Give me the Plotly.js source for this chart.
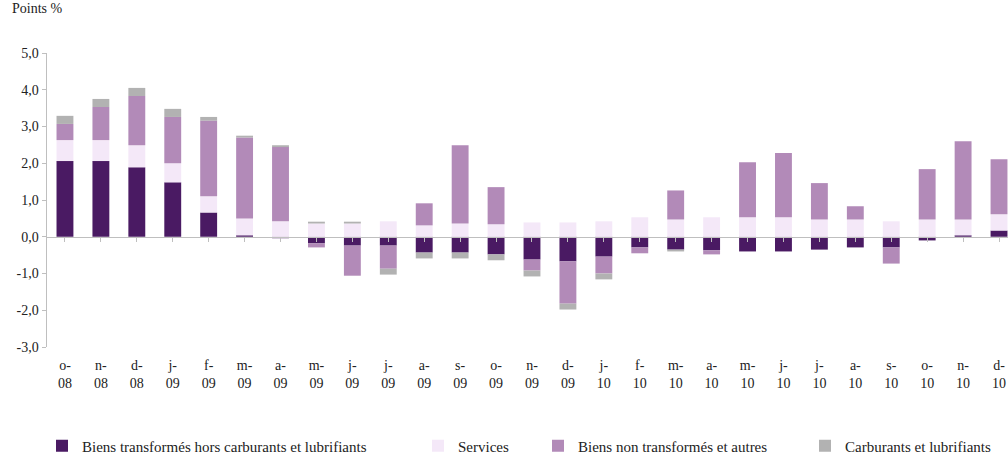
<!DOCTYPE html>
<html>
<head>
<meta charset="utf-8">
<script src="https://cdn.plot.ly/plotly-3.0.1.min.js"></script>
<style>html,body{margin:0;padding:0;background:#fff;}#chart{width:1008px;height:457px;}</style>
</head>
<body>
<div id="chart"></div>
<script>
var categories = ["o-<br>08","n-<br>08","d-<br>08","j-<br>09","f-<br>09","m-<br>09","a-<br>09","m-<br>09","j-<br>09","j-<br>09","a-<br>09","s-<br>09","o-<br>09","n-<br>09","d-<br>09","j-<br>10","f-<br>10","m-<br>10","a-<br>10","m-<br>10","j-<br>10","j-<br>10","a-<br>10","s-<br>10","o-<br>10","n-<br>10","d-<br>10"];
var biensTransformes = [2.06,2.06,1.89,1.48,0.66,0.04,-0.04,-0.18,-0.24,-0.24,-0.43,-0.43,-0.48,-0.62,-0.67,-0.54,-0.29,-0.35,-0.37,-0.40,-0.40,-0.35,-0.29,-0.29,-0.10,0.04,0.17];
var services = [0.57,0.57,0.60,0.52,0.44,0.46,0.42,0.36,0.36,0.42,0.31,0.36,0.34,0.39,0.39,0.42,0.53,0.47,0.53,0.53,0.53,0.47,0.47,0.42,0.47,0.43,0.44];
var biensNonTransformes = [0.44,0.90,1.34,1.26,2.06,2.20,2.02,-0.11,-0.82,-0.63,0.60,2.13,1.01,-0.30,-1.15,-0.46,-0.16,0.79,-0.11,1.50,1.75,0.99,0.36,-0.44,1.37,2.13,1.50];
var carburants = [0.22,0.22,0.22,0.22,0.10,0.05,0.05,0.05,0.05,-0.16,-0.16,-0.16,-0.16,-0.16,-0.16,-0.16,0.00,-0.05,0.00,0.00,0.00,0.00,0.00,0.00,0.00,0.00,0.00];
var seriesNames = ["Biens transformés hors carburants et lubrifiants","Services","Biens non transformés et autres","Carburants et lubrifiants"];
var yTickVals = [-3,-2,-1,0,1,2,3,4,5];
var yTickText = ["-3,0","-2,0","-1,0","0,0","1,0","2,0","3,0","4,0","5,0"];

var colors = ["#4A1A63","#F4E8F8","#B28AB8","#B2B2B2"];
var legendIds = ["legend","legend2","legend3","legend4"];
var seriesData = [biensTransformes, services, biensNonTransformes, carburants];
var idx = categories.map(function(c,i){return i;});
var traces = seriesData.map(function(vals,k){
  return {type:"bar", x: idx, y: vals, name: seriesNames[k], legend: legendIds[k],
          marker:{color: colors[k], line:{width:0}}, hoverinfo:"y"};
});
// overlay axis for line at zero with boundary ticks
traces.push({type:"scatter", x:[0,26], y:[0,0], xaxis:"x2", yaxis:"y", mode:"none", showlegend:false, hoverinfo:"skip"});

var font = "Liberation Serif";
function leg(xpx){
  return {orientation:"h", xref:"container", yref:"container", x:xpx/1008, y:1-446/457, xanchor:"left", yanchor:"middle",
          font:{family:font, size:15, color:"#222"}, itemwidth:30, bgcolor:"rgba(0,0,0,0)"};
}
var layout = {
  width:1008, height:457,
  margin:{l:47, r:0, t:53, b:110},
  paper_bgcolor:"#fff", plot_bgcolor:"#fff",
  barmode:"relative", bargap:0.53,
  font:{family:font, size:13, color:"#222"},
  showlegend:true,
  legend:leg(42), legend2:leg(418), legend3:leg(538), legend4:leg(805),
  xaxis:{range:[-0.5,26.25], tickmode:"array", tickvals:idx, ticktext:categories, showline:false, ticks:"", showgrid:false, zeroline:false,
         tickfont:{family:font, size:14, color:"#222"}, ticklabelstandoff:8, fixedrange:true},
  xaxis2:{overlaying:"x", matches:"x", anchor:"free", position:0.375, range:[-0.5,26.25], showline:true, linecolor:"#BFBFBF", linewidth:1.5,
          ticks:"outside", ticklen:4, tickcolor:"#BFBFBF", tickson:"boundaries", tickmode:"array", tickvals:idx, showticklabels:false, showgrid:false, zeroline:false},
  yaxis:{range:[-3,5], tickmode:"array", tickvals:yTickVals, ticktext:yTickText, showline:true, linecolor:"#BFBFBF", linewidth:1.5,
         ticks:"outside", ticklen:4, tickcolor:"#BFBFBF", showgrid:false, zeroline:false, tickfont:{family:font, size:14, color:"#222"}},
  annotations:[{text:"Points %", xref:"paper", yref:"paper", x:-0.038, y:1.15, xanchor:"left", yanchor:"middle", showarrow:false,
                font:{family:font, size:14, color:"#222"}}]
};
Plotly.newPlot("chart", traces, layout, {displayModeBar:false, staticPlot:true});
</script>
</body>
</html>
